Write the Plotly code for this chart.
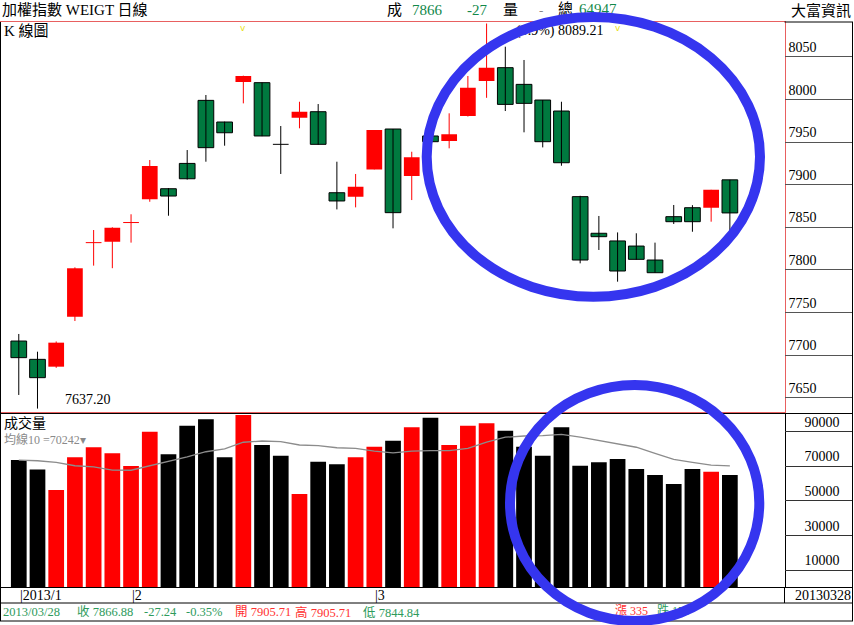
import plotly.graph_objects as go

W, H = 854, 625

# ---------------- data ----------------
dates = ["2013/01/24", "2013/01/25", "2013/01/28", "2013/01/29", "2013/01/30", "2013/01/31",
         "2013/02/01", "2013/02/04", "2013/02/05", "2013/02/06", "2013/02/18", "2013/02/19",
         "2013/02/20", "2013/02/21", "2013/02/22", "2013/02/23", "2013/02/25", "2013/02/26",
         "2013/02/27", "2013/03/01", "2013/03/04", "2013/03/05", "2013/03/06", "2013/03/07",
         "2013/03/08", "2013/03/11", "2013/03/12", "2013/03/13", "2013/03/14", "2013/03/15",
         "2013/03/18", "2013/03/19", "2013/03/20", "2013/03/21", "2013/03/22", "2013/03/25",
         "2013/03/26", "2013/03/27", "2013/03/28"]

opens = [7716.5, 7695.0, 7686.4, 7745.0, 7832.0, 7833.0, 7855.6, 7883.0, 7895.3, 7925.0,
         7999.0, 7973.6, 8020.6, 8019.8, 7947.4, 7978.6, 7985.7, 7890.6, 7886.0, 7918.0,
         7965.4, 7910.2, 7957.2, 7951.3, 7980.7, 8021.7, 8037.4, 8017.8, 7999.4, 7986.5,
         7886.0, 7843.0, 7834.0, 7828.0, 7811.6, 7862.5, 7873.0, 7873.0, 7905.71]
highs = [7724.8, 7704.0, 7716.0, 7803.0, 7846.8, 7850.0, 7865.3, 7929.0, 7896.0, 7940.7,
         8005.3, 7974.0, 8028.0, 8020.0, 7968.9, 7997.4, 7994.7, 7927.0, 7912.6, 7964.2,
         7965.4, 7938.7, 7958.0, 7983.8, 8027.6, 8089.21, 8062.0, 8046.4, 7999.4, 7997.4,
         7887.0, 7863.3, 7844.0, 7843.0, 7832.0, 7876.2, 7876.0, 7894.0, 7905.71]
lows = [7653.2, 7637.2, 7685.0, 7740.0, 7805.0, 7802.0, 7832.0, 7880.0, 7863.6, 7906.0,
        7927.0, 7945.8, 7995.5, 7957.0, 7912.6, 7966.2, 7947.0, 7871.0, 7873.4, 7918.0,
        7848.8, 7882.0, 7950.0, 7942.7, 7980.0, 8002.0, 7986.5, 7961.5, 7943.8, 7922.3,
        7807.7, 7823.4, 7786.2, 7812.0, 7796.7, 7853.9, 7844.8, 7856.6, 7844.84]
closes = [7697.0, 7673.5, 7714.6, 7801.9, 7832.4, 7849.5, 7856.0, 7922.0, 7886.7, 7907.0,
          7943.5, 7961.0, 8027.6, 7957.2, 7947.4, 7985.7, 7947.4, 7880.9, 7897.7, 7964.2,
          7867.2, 7932.2, 7950.5, 7959.2, 8013.9, 8037.4, 7994.3, 7995.5, 7950.5, 7925.8,
          7811.6, 7839.0, 7798.7, 7812.4, 7796.7, 7856.6, 7856.6, 7894.12, 7866.88]

volumes = [73600, 68200, 56300, 75200, 81000, 77500, 70200, 90000, 76900, 93500,
           97200, 75200, 99700, 82300, 76100, 54000, 72600, 71100, 75200, 81300,
           84800, 92500, 98100, 82300, 93500, 94900, 90600, 81300, 76100, 92500,
           70300, 72300, 74200, 68400, 64900, 59700, 68400, 66900, 64947]
vol_ma10 = [73600, 73200, 72300, 70300, 69600, 67800, 67700, 70200, 72600, 75500,
            78400, 80000, 83900, 84600, 84200, 82300, 81900, 80700, 80400, 78800,
            77800, 78800, 79000, 79000, 80400, 83900, 86800, 87500, 87700, 88500,
            86800, 84800, 82700, 81000, 77500, 74000, 72300, 70700, 70242]

price_ticks = [7650, 7700, 7750, 7800, 7850, 7900, 7950, 8000, 8050]
vol_ticks = [10000, 30000, 50000, 70000, 90000]
price_range = [7633.2, 8091.0]
vol_range = [0, 100230]
x_range = [-0.95, 40.92]

# ---------------- styling helpers ----------------
FONT = "Liberation Serif, Noto Sans CJK TC, serif"
RED = "#FF0000"
GREEN_BODY = "#00793F"
HDR_GREEN = "#12884A"
FT_GREEN = "#2E9B5C"
FT_RED = "#FF3030"
FRAME_RED = "#E86060"
BLUE = "#3535EF"


def px(x):
    return x / W


def py(y):
    return 1 - y / H


n = len(dates)
idx = list(range(n))
is_cross = [abs(c - o) < 1 for o, c in zip(opens, closes)]
candle_up = [c > o for o, c in zip(opens, closes)]

fig = go.Figure()

# wicks
for up_flag, col in [(True, RED), (False, "#000000")]:
    wx, wy = [], []
    for i in idx:
        if candle_up[i] == up_flag:
            wx += [i, i, None]
            wy += [lows[i], highs[i], None]
    fig.add_trace(go.Scatter(x=wx, y=wy, mode="lines", line=dict(color=col, width=1),
                             hoverinfo="skip", showlegend=False, xaxis="x", yaxis="y"))

# bodies
ri = [i for i in idx if candle_up[i] and not is_cross[i]]
gi = [i for i in idx if (not candle_up[i]) and not is_cross[i]]
fig.add_trace(go.Bar(x=ri, y=[closes[i] - opens[i] for i in ri], base=[opens[i] for i in ri],
                     width=0.84, marker=dict(color=RED, line=dict(width=0)),
                     showlegend=False, xaxis="x", yaxis="y"))
fig.add_trace(go.Bar(x=gi, y=[opens[i] - closes[i] for i in gi], base=[closes[i] for i in gi],
                     width=0.84, marker=dict(color=GREEN_BODY, line=dict(color="#000000", width=1)),
                     showlegend=False, xaxis="x", yaxis="y"))

# doji crosses
for up_flag, col in [(True, RED), (False, "#000000")]:
    cx, cy = [], []
    for i in idx:
        if is_cross[i] and candle_up[i] == up_flag:
            cx += [i - 0.42, i + 0.42, None]
            cy += [opens[i], opens[i], None]
    if cx:
        fig.add_trace(go.Scatter(x=cx, y=cy, mode="lines", line=dict(color=col, width=1),
                                 hoverinfo="skip", showlegend=False, xaxis="x", yaxis="y"))

# volume
vol_colors = [RED if candle_up[i] else "#000000" for i in idx]
fig.add_trace(go.Bar(x=idx, y=volumes, width=0.84, marker=dict(color=vol_colors, line=dict(width=0)),
                     showlegend=False, xaxis="x2", yaxis="y2"))
fig.add_trace(go.Scatter(x=idx, y=vol_ma10, mode="lines", line=dict(color="#8C8C8C", width=1.3),
                         showlegend=False, xaxis="x2", yaxis="y2"))

# helper traces for axis-label boxes
fig.add_trace(go.Scatter(x=[0.5], y=[7800], mode="markers", marker=dict(opacity=0),
                         hoverinfo="skip", showlegend=False, xaxis="x3", yaxis="y3"))
fig.add_trace(go.Scatter(x=[0.5], y=[50000], mode="markers", marker=dict(opacity=0),
                         hoverinfo="skip", showlegend=False, xaxis="x4", yaxis="y4"))

# text partly covered by the hand-drawn ellipses (drawn as traces so shapes sit above)
hidden_texts = [
    (558, 10, "總", "#000000", 15),
    (579, 10, "64947", HDR_GREEN, 15),
    (516, 31, "(5.9%) 8089.21", "#000000", 14),
    (615, 612, "漲 335", FT_RED, 12),
    (657, 612, "跌 170", FT_GREEN, 12),
]
for x, y, t, c, s in hidden_texts:
    fig.add_trace(go.Scatter(x=[x], y=[y], mode="text", text=[t], textposition="middle right",
                             textfont=dict(family=FONT, size=s, color=c),
                             hoverinfo="skip", showlegend=False, xaxis="x5", yaxis="y5"))

# ---------------- layout ----------------
xdom = [px(1), px(784.5)]
price_dom = [py(412), py(22)]
vol_dom = [py(587.3), py(414)]
box_dom = [px(784.5), px(852.5)]

fig.update_layout(
    width=W, height=H,
    margin=dict(l=0, r=0, t=0, b=0),
    paper_bgcolor="white",
    plot_bgcolor="rgba(0,0,0,0)",
    barmode="overlay",
    showlegend=False,
    font=dict(family=FONT, size=14, color="#000000"),
    xaxis=dict(domain=xdom, range=x_range, anchor="y", showticklabels=False, showgrid=False,
               zeroline=False, showline=True, linecolor=FRAME_RED, linewidth=1, mirror=True,
               ticks="", fixedrange=True),
    yaxis=dict(domain=price_dom, range=price_range, anchor="x", showticklabels=False,
               showgrid=False, zeroline=False, showline=True, linecolor=FRAME_RED, linewidth=1,
               mirror=True, ticks="", fixedrange=True),
    xaxis2=dict(domain=xdom, range=x_range, anchor="y2", showticklabels=False, showgrid=False,
                zeroline=False, showline=True, linecolor="#000000", linewidth=1, mirror=True,
                ticks="", fixedrange=True),
    yaxis2=dict(domain=vol_dom, range=vol_range, anchor="x2", showticklabels=False,
                showgrid=False, zeroline=False, showline=True, linecolor="#000000", linewidth=1,
                mirror=True, ticks="", fixedrange=True),
    xaxis3=dict(domain=box_dom, range=[0, 1], anchor="y3", visible=False, fixedrange=True),
    yaxis3=dict(domain=price_dom, range=price_range, anchor="x3", side="left",
                tickvals=price_ticks, ticktext=[str(v) for v in price_ticks],
                ticklabelposition="inside top", ticklabelstandoff=1, ticklabeloverflow="allow",
                showgrid=True, gridcolor="#555555", gridwidth=1, zeroline=False,
                showline=False, ticks="", tickfont=dict(family=FONT, size=14, color="#000000"),
                fixedrange=True),
    xaxis4=dict(domain=box_dom, range=[0, 1], anchor="y4", visible=False, fixedrange=True),
    yaxis4=dict(domain=vol_dom, range=vol_range, anchor="x4", side="left",
                tickvals=vol_ticks, ticktext=[str(v) for v in vol_ticks],
                ticklabelposition="inside top", ticklabelstandoff=17, ticklabeloverflow="allow",
                showgrid=True, gridcolor="#333333", gridwidth=1, zeroline=False,
                showline=False, ticks="", tickfont=dict(family=FONT, size=14, color="#000000"),
                fixedrange=True),
    xaxis5=dict(domain=[0, 1], range=[0, W], anchor="y5", visible=False, fixedrange=True),
    yaxis5=dict(domain=[0, 1], range=[H, 0], anchor="x5", visible=False, fixedrange=True),
)

# ---------------- annotations ----------------
ann = []


def txt(x, y, t, color="#000000", size=14, anchor="left"):
    ann.append(dict(x=px(x), y=py(y), xref="paper", yref="paper", text=t, showarrow=False,
                    xanchor=anchor, yanchor="middle",
                    font=dict(family=FONT, size=size, color=color)))


# header
txt(0, 10, "加權指數 WEIGT 日線", size=15)
txt(385, 10, "成", size=15)
txt(410, 10, "7866", HDR_GREEN, 15)
txt(465, 10, "-27", HDR_GREEN, 15)
txt(501, 10, "量", size=15)
txt(537, 10, "-", "#888888", 13)
txt(853, 10, "大富資訊", size=15, anchor="right")

# price panel
txt(2, 31, "K 線圖", size=15)
low_i = lows.index(min(lows))
ann.append(dict(x=low_i, y=lows[low_i], xref="x", yref="y", text=f"{min(lows):.2f}",
                showarrow=False, xanchor="left", yanchor="middle", xshift=26, yshift=9,
                font=dict(family=FONT, size=14, color="#000000")))
for mi in (12, 32):
    ann.append(dict(x=mi, y=price_dom[1], xref="x", yref="paper", text="v", showarrow=False,
                    xanchor="center", yanchor="top", yshift=1,
                    font=dict(family="DejaVu Sans", size=9, color="#E8E020")))

# volume panel
txt(2, 423, "成交量", size=14)
txt(2, 439, f"均線10 ={vol_ma10[-1]}▾", "#8A8A8A", 12)

# date row
prev_m = None
for i, d in enumerate(dates):
    y_, m_, _ = d.split("/")
    if m_ != prev_m:
        label = f"{y_}/{int(m_)}" if prev_m is None else f"{int(m_)}"
        ann.append(dict(x=i, y=py(595), xref="x2", yref="paper", text="|" + label,
                        showarrow=False, xanchor="left", yanchor="middle", xshift=-1,
                        font=dict(family=FONT, size=14, color="#000000")))
        prev_m = m_
txt(853, 595, dates[-1].replace("/", ""), size=14, anchor="right")

# footer
chg = closes[-1] - closes[-2]
pct = chg / closes[-2] * 100
txt(1, 612, dates[-1], FT_GREEN, 12.5)
txt(75, 612, f"收 {closes[-1]:.2f}", FT_GREEN, 12.5)
txt(142, 612, f"{chg:.2f}", FT_GREEN, 12.5)
txt(184, 612, f"{pct:.2f}%", FT_GREEN, 12.5)
txt(233, 612, f"開 {opens[-1]:.2f}", FT_RED, 12.5)
txt(293, 612, f"高 {highs[-1]:.2f}", FT_RED, 12.5)
txt(361, 612, f"低 {lows[-1]:.2f}", FT_GREEN, 12.5)

fig.update_layout(annotations=ann)

# ---------------- frame lines + hand-drawn ellipses ----------------
shapes = []


def line(x0, y0, x1, y1, color="#000000", w=1):
    shapes.append(dict(type="line", xref="paper", yref="paper", x0=px(x0), y0=py(y0),
                       x1=px(x1), y1=py(y1), line=dict(color=color, width=w), layer="above"))


line(0.5, 22, 0.5, 621)
line(852.5, 22, 852.5, 621)
line(0, 621, 853, 621)
line(784.5, 22, 853, 22)
line(784.5, 413.5, 853, 413.5)
line(0, 587.5, 853, 587.5)
line(0, 603, 853, 603)
line(784.5, 587.5, 784.5, 603)

for (x0, y0, x1, y1) in [(426.7, 17, 760, 296.7), (510, 385, 759.3, 621)]:
    shapes.append(dict(type="circle", xref="paper", yref="paper", x0=px(x0), x1=px(x1),
                       y0=py(y1), y1=py(y0), line=dict(color=BLUE, width=10),
                       fillcolor="rgba(0,0,0,0)", layer="above"))

fig.update_layout(shapes=shapes)

fig.write_html("out.html", config={"displayModeBar": False},
               post_script="document.body.style.margin='0';document.body.style.padding='0';"
                           "document.body.style.overflow='hidden';")
